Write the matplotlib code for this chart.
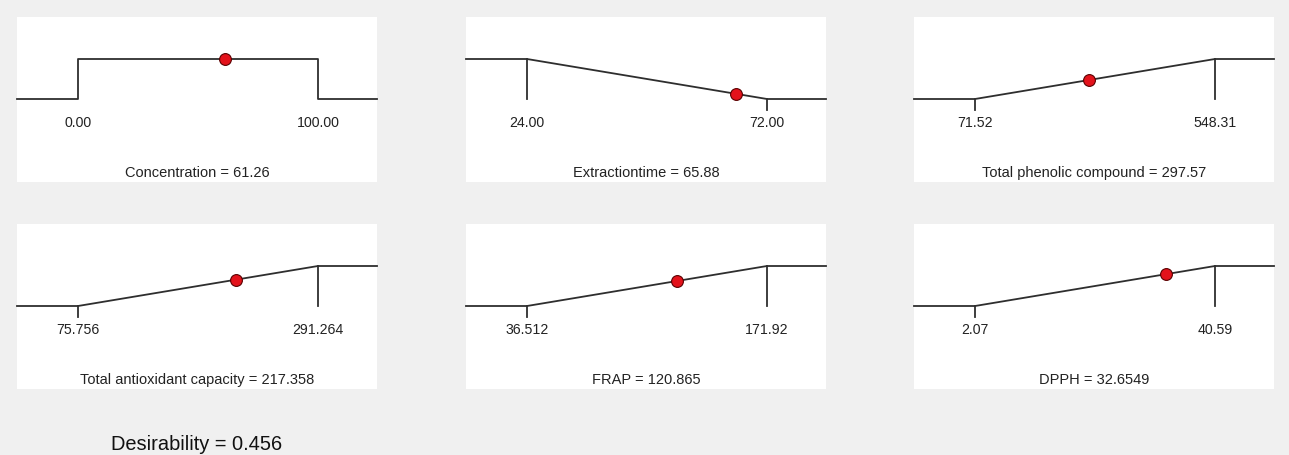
import numpy as np
import matplotlib.pyplot as plt

# Minitab-style optimisation plot: one desirability curve per variable
nomes = ['Concentration', 'Extractiontime', 'Total phenolic compound',
         'Total antioxidant capacity', 'FRAP', 'DPPH']
limite_inf = [0.00, 24.00, 71.52, 75.756, 36.512, 2.07]
limite_sup = [100.00, 72.00, 548.31, 291.264, 171.92, 40.59]
rotulo_inf = ['0.00', '24.00', '71.52', '75.756', '36.512', '2.07']
rotulo_sup = ['100.00', '72.00', '548.31', '291.264', '171.92', '40.59']
otimo = [61.26, 65.88, 297.57, 217.358, 120.865, 32.6549]
rotulo_otimo = ['61.26', '65.88', '297.57', '217.358', '120.865', '32.6549']
objetivo = ['target', 'minimize', 'maximize', 'maximize', 'maximize', 'maximize']
desejabilidade = '0.456'

W, H = 1289, 456
fig = plt.figure(figsize=(W / 100, H / 100), dpi=100, facecolor='#f0f0f0')
plt.rcParams['font.family'] = ['Liberation Sans', 'DejaVu Sans']

# caixas dos paineis em pixels (esquerda, topo)
col_x = [17, 466, 914]
lin_y = [18, 225]
larg, alt = 360, 165

cor_linha = '#2e2e2e'
cor_texto = '#222222'

for i in range(6):
    x0 = col_x[i % 3]
    y0 = lin_y[i // 3]
    ax = fig.add_axes([x0 / W, (H - y0 - alt) / H, larg / W, alt / H])
    ax.set_facecolor('white')
    for s in ax.spines.values():
        s.set_visible(False)
    ax.set_xticks([])
    ax.set_yticks([])

    lo, hi = limite_inf[i], limite_sup[i]
    esc = (hi - lo) / 240.0
    xmin, xmax = lo - 61 * esc, hi + 59 * esc
    ax.set_xlim(xmin, xmax)
    ax.set_ylim(-83 / 40, 1 + 42 / 40)

    if objetivo[i] == 'target':
        xs = [xmin, lo, lo, hi, hi, xmax]
        ys = [0, 0, 1, 1, 0, 0]
    elif objetivo[i] == 'minimize':
        xs = [xmin, lo, hi, xmax]
        ys = [1, 1, 0, 0]
        ax.plot([lo, lo], [1, 0], color=cor_linha, lw=1.3)
        ax.plot([hi, hi], [0, -0.28], color=cor_linha, lw=1.3)
    else:
        xs = [xmin, lo, hi, xmax]
        ys = [0, 0, 1, 1]
        ax.plot([lo, lo], [0, -0.28], color=cor_linha, lw=1.3)
        ax.plot([hi, hi], [1, 0], color=cor_linha, lw=1.3)
    ax.plot(xs, ys, color=cor_linha, lw=1.3, clip_on=False)

    d = np.interp(otimo[i], xs[1:-1], ys[1:-1]) if objetivo[i] != 'target' else 1.0
    ax.plot([otimo[i]], [d], 'o', color='#e3121b', markeredgecolor='#5a0000',
            markeredgewidth=0.8, markersize=8.5, zorder=5)

    trans = ax.get_xaxis_transform()
    ax.text(lo, 60 / alt, rotulo_inf[i], transform=trans, ha='center', va='center',
            fontsize=10.2, color=cor_texto)
    ax.text(hi, 60 / alt, rotulo_sup[i], transform=trans, ha='center', va='center',
            fontsize=10.2, color=cor_texto)
    ax.text(0.5, 10 / alt, f'{nomes[i]} = {rotulo_otimo[i]}', transform=ax.transAxes,
            ha='center', va='center', fontsize=10.5, color=cor_texto)

fig.text(197 / W, 1 - 445 / H, f'Desirability = {desejabilidade}', ha='center', va='center',
         fontsize=14.4, color='#111111')

fig.savefig('out.png', dpi=100, facecolor=fig.get_facecolor())
